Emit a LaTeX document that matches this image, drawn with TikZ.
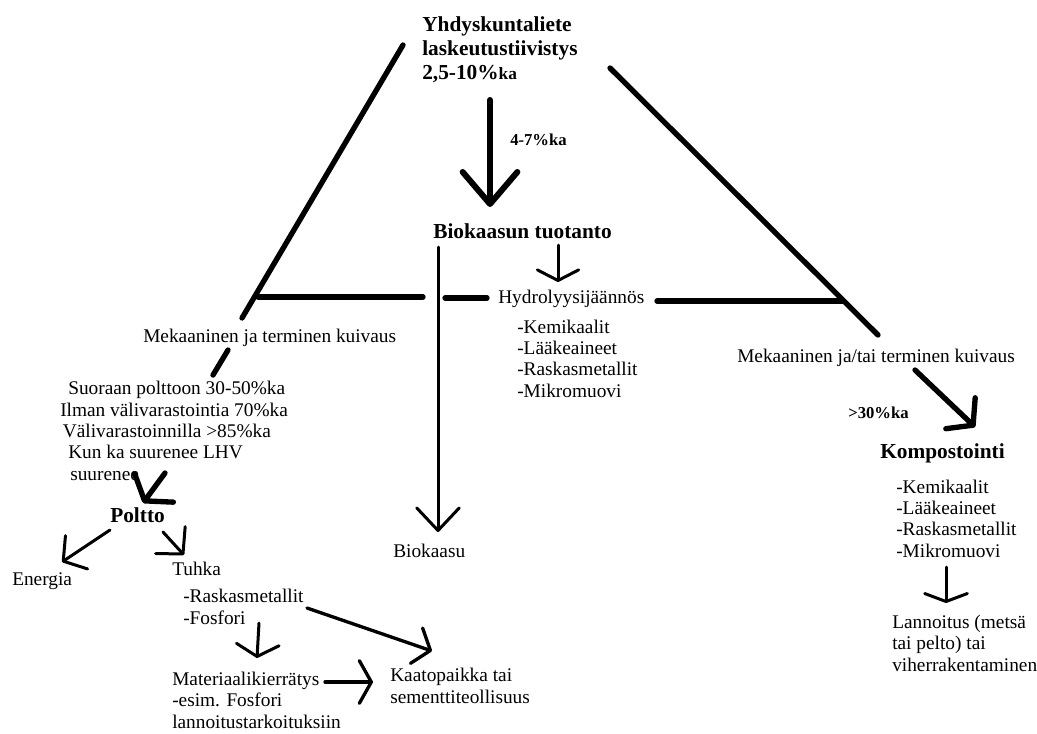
\documentclass[tikz,border=0pt]{standalone}
\usepackage{fontspec}
\setmainfont{Liberation Serif}
\usetikzlibrary{arrows.meta}

\begin{document}
\begin{tikzpicture}[
  x=0.75pt, y=-0.75pt,
  teksti/.style={anchor=base west, inner sep=0pt, align=left, font=\fontsize{14.5}{16}\selectfont},
  otsikko/.style={teksti, font=\bfseries\fontsize{16}{18}\selectfont},
  pieni/.style={teksti, font=\bfseries\fontsize{12.5}{14}\selectfont},
  paksu/.style={line width=4pt, line cap=round},
  ohut/.style={line width=2.25pt, line cap=round},
  karki/.style 2 args={-{Straight Barb[length=#1, width=#2, round]}}
]
\useasboundingbox (0,0) rectangle (1037,733);

% tekstit (monirivisissa y = viimeisen rivin perusviiva)
\node[otsikko] (liete) at (422,79) {Yhdyskuntaliete\\laskeutustiivistys\\2,5-10\%{\fontsize{13}{18}\selectfont ka}};
\node[pieni] (osuus) at (510,145) {4-7\%ka};
\node[otsikko] (tuotanto) at (433,238) {Biokaasun tuotanto};
\node[teksti] (hydrolyysi) at (498,303) {Hydrolyysij\"a\"ann\"os};
\node[teksti] (hlista) at (517,397) {-Kemikaalit\\-L\"a\"akeaineet\\-Raskasmetallit\\-Mikromuovi};
\node[teksti] (kuivaus) at (143,342) {Mekaaninen ja terminen kuivaus};
\node[teksti] (kuiva) at (60,480) {\hspace*{6pt}Suoraan polttoon 30-50\%ka\\Ilman v\"alivarastointia 70\%ka\\\hspace*{2pt}V\"alivarastoinnilla >85\%ka\\\hspace*{6pt}Kun ka suurenee LHV\\\hspace*{7.5pt}suurenee};
\node[otsikko] (poltto) at (110,522) {Poltto};
\node[teksti] (energia) at (12,585) {Energia};
\node[teksti] (tuhka) at (172,575) {Tuhka};
\node[teksti] (tlista) at (183,624) {-Raskasmetallit\\-Fosfori};
\node[teksti] (kierratys) at (172,728) {Materiaalikierr\"atys\\-esim. Fosfori\\lannoitustarkoituksiin};
\node[teksti] (kaatopaikka) at (390,703) {Kaatopaikka tai\\sementtiteollisuus};
\node[teksti] (biokaasu) at (393,557) {Biokaasu};
\node[teksti] (kuivaus2) at (737,362) {Mekaaninen ja/tai terminen kuivaus};
\node[pieni] (ka30) at (848,418) {>30\%ka};
\node[otsikko] (komposti) at (880,458) {Kompostointi};
\node[teksti] (klista) at (896,557) {-Kemikaalit\\-L\"a\"akeaineet\\-Raskasmetallit\\-Mikromuovi};
\node[teksti] (lannoitus) at (892,671) {Lannoitus (mets\"a\\tai pelto) tai\\viherrakentaminen};

% viivojen paatepisteet
\coordinate (vasen-yla) at (403,45);
\coordinate (vasen-ala) at (242,318);
\coordinate (vasen-alku) at (258,297);
\coordinate (vasen-loppu) at (423,297);
\coordinate (oikea-yla) at (610,68);
\coordinate (oikea-ala) at (878,335);
\coordinate (oikea-alku) at (657,301);
\coordinate (oikea-loppu) at (843,301);
\coordinate (hyd-alku) at (445,298);
\coordinate (hyd-loppu) at (487,298);
\coordinate (kuiv-yla) at (228,350);
\coordinate (kuiv-ala) at (213,375);
\coordinate (liete-ala) at (490,100);
\coordinate (tuotanto-yla) at (490,207);
\coordinate (tuot-hyd1) at (558,245);
\coordinate (tuot-hyd2) at (558,282);
\coordinate (tuot-bio1) at (438,247);
\coordinate (tuot-bio2) at (438,532);
\coordinate (polt1) at (165,473);
\coordinate (polt2) at (143,503);
\coordinate (ener1) at (110,530);
\coordinate (ener2) at (62,562);
\coordinate (tuhk1) at (163,532);
\coordinate (tuhk2) at (184,555);
\coordinate (fosf1) at (259,623);
\coordinate (fosf2) at (257,658);
\coordinate (rask1) at (307,608);
\coordinate (rask2) at (432,651);
\coordinate (kier1) at (325,682);
\coordinate (kier2) at (373,682);
\coordinate (komp1) at (915,370);
\coordinate (komp2) at (975,427);
\coordinate (lann1) at (946,567);
\coordinate (lann2) at (946,603);

% haarat
\draw[paksu] (vasen-yla) -- (vasen-ala);
\draw[paksu] (vasen-alku) -- (vasen-loppu);
\draw[paksu] (oikea-yla) -- (oikea-ala);
\draw[paksu] (oikea-alku) -- (oikea-loppu);
\draw[paksu] (hyd-alku) -- (hyd-loppu);
\draw[paksu] (kuiv-yla) -- (kuiv-ala);

% nuolet
\draw[paksu, line width=4.5pt, karki={24pt}{41pt}] (liete-ala) -- (tuotanto-yla);
\draw[ohut, karki={8pt}{31pt}] (tuot-hyd1) -- (tuot-hyd2);
\draw[ohut, karki={17pt}{32pt}] (tuot-bio1) -- (tuot-bio2);
\draw[paksu, karki={12pt}{36pt}] (polt1) -- (polt2);
\draw[ohut, karki={12pt}{30pt}] (ener1) -- (ener2);
\draw[ohut, karki={14pt}{30pt}] (tuhk1) -- (tuhk2);
\draw[ohut, karki={9pt}{32pt}] (fosf1) -- (fosf2);
\draw[ohut, line width=2.5pt, karki={11pt}{28pt}] (rask1) -- (rask2);
\draw[ohut, line width=2.5pt, karki={9pt}{32pt}] (kier1) -- (kier2);
\draw[paksu, karki={13pt}{32pt}] (komp1) -- (komp2);
\draw[ohut, karki={6pt}{32pt}] (lann1) -- (lann2);
\end{tikzpicture}
\end{document}
